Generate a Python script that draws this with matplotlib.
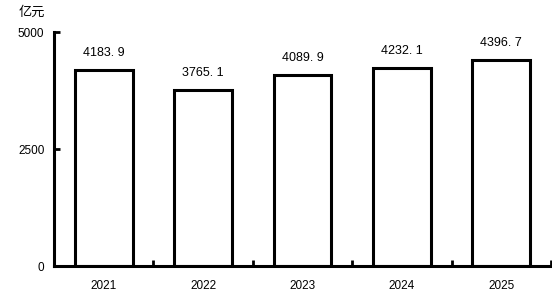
import matplotlib
matplotlib.use("Agg")
import matplotlib.pyplot as plt

plt.rcParams['font.family'] = ['Liberation Sans', 'Noto Sans CJK SC', 'DejaVu Sans']

years = ["2021", "2022", "2023", "2024", "2025"]
values = [4183.9, 3765.1, 4089.9, 4232.1, 4396.7]
y_ticks = [0, 2500, 5000]
unit_label = "亿元"

fig = plt.figure(figsize=(5.52, 3.03), dpi=100)
ax = fig.add_axes([0.098, 0.122, 0.9, 0.772])

x = list(range(len(years)))
ax.bar(x, values, width=0.58, color="white", edgecolor="black", linewidth=2.2, zorder=2)

for xi, v in zip(x, values):
    ax.annotate(f"{v:.1f}".replace(".", ". "), (xi, v), xytext=(0, 8),
                textcoords="offset points", ha="center", va="bottom", fontsize=9)

ax.set_xlim(-0.5, len(years) - 0.5)
ax.set_ylim(0, 5000)

for side in ("top", "right"):
    ax.spines[side].set_visible(False)
for side in ("left", "bottom"):
    ax.spines[side].set_linewidth(2.2)

ax.set_xticks(x)
ax.set_xticklabels(years, fontsize=8.5)
ax.tick_params(axis="x", which="major", length=0, pad=10)
ax.set_xticks([i + 0.5 for i in x], minor=True)
ax.tick_params(axis="x", which="minor", direction="in", length=4, width=2)

ax.set_yticks(y_ticks)
ax.set_yticklabels([str(t) for t in y_ticks], fontsize=8.5)
ax.tick_params(axis="y", direction="in", length=4, width=2, pad=7)

fig.text(0.033, 0.96, unit_label, fontsize=9.5, ha="left", va="center")

fig.savefig("out.png", dpi=100)
